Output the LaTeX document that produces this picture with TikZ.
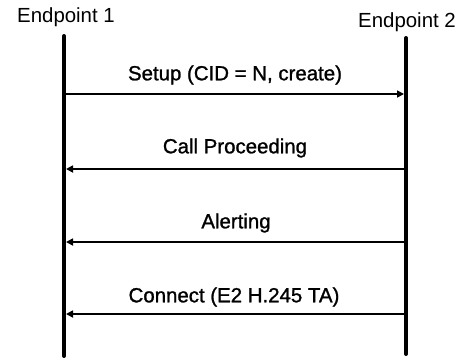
\documentclass[tikz,border=0pt]{standalone}
\usepackage{fontspec}
\setmainfont{Liberation Sans}
\newfontfamily\msgfont[FakeBold=1.2]{Liberation Sans}
\usetikzlibrary{arrows.meta}
\begin{document}
\begin{tikzpicture}[x=1bp,y=-1bp,
  lifeline/.style={line width=4bp,line cap=round},
  msg/.style={line width=1.6bp,-{Triangle[length=7bp,width=7bp]}},
  lbl/.style={font=\fontsize{20.5}{22}\selectfont,inner sep=0pt},
  mlbl/.style={font=\msgfont\fontsize{20.5}{22}\selectfont,inner sep=0pt}]
\useasboundingbox (0,0) rectangle (468,360);
\node[lbl] (e1) at (66,17) {Endpoint 1};
\node[lbl] (e2) at (407,22) {Endpoint 2};
\coordinate (l1t) at (64,36);
\coordinate (l1b) at (64,356);
\coordinate (r1t) at (406,38);
\coordinate (r1b) at (406,354);
\draw[lifeline] (l1t) -- (l1b);
\draw[lifeline] (r1t) -- (r1b);
\coordinate (a1) at (64,94);
\coordinate (b1) at (404,94);
\coordinate (a2) at (406,169);
\coordinate (b2) at (66,169);
\coordinate (a3) at (406,242);
\coordinate (b3) at (66,242);
\coordinate (a4) at (406,314);
\coordinate (b4) at (66,314);
\draw[msg] (a1) -- (b1);
\draw[msg] (a2) -- (b2);
\draw[msg] (a3) -- (b3);
\draw[msg] (a4) -- (b4);
\node[mlbl] (t1) at (235,75) {Setup (CID = N, create)};
\node[mlbl] (t2) at (235,148) {Call Proceeding};
\node[mlbl] (t3) at (236,223) {Alerting};
\node[mlbl] (t4) at (234,297) {Connect (E2 H.245 TA)};
\end{tikzpicture}
\end{document}
